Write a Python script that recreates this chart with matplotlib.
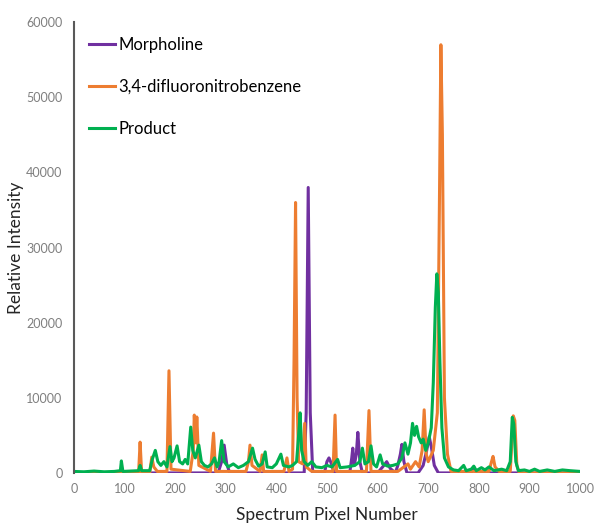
#! /usr/bin/env python
# Raman-like spectra of morpholine, 3,4-difluoronitrobenzene and product

import matplotlib
matplotlib.use('Agg')
import matplotlib.pyplot as plt

plt.rcParams['font.family'] = ['Lato', 'DejaVu Sans']

# spectrum pixel / relative intensity
morph_x = [0, 285, 292, 297, 302, 308, 455, 459, 463, 467, 472, 495, 500, 504,
           509, 514, 545, 549, 551, 554, 558, 561, 565, 570, 600, 610, 618, 625,
           635, 640, 645, 648, 652, 658, 680, 690, 697, 702, 706, 712, 720, 785,
           790, 795, 1000]
morph_y = [0, 0, 1500, 3700, 1200, 0, 0, 8000, 38000, 8000, 0, 0, 1500, 2000,
           1200, 0, 0, 2000, 3300, 1000, 2500, 5400, 1500, 0, 0, 800, 1500, 600,
           0, 1000, 2500, 3800, 1500, 0, 0, 1000, 3000, 4800, 3500, 1000, 0, 0,
           800, 0, 0]

dfnb_x = [0, 128, 131, 134, 150, 154, 158, 165, 184, 188, 192, 230, 236, 238,
          241, 243, 247, 270, 276, 280, 340, 345, 348, 352, 368, 372, 375, 415,
          421, 425, 432, 435, 438, 441, 444, 452, 456, 459, 470, 512, 516, 519,
          578, 583, 587, 640, 660, 665, 675, 682, 688, 692, 696, 700, 710, 718,
          722, 725, 728, 732, 738, 745, 820, 825, 828, 832, 840, 862, 866, 868,
          871, 875, 880, 1000]
dfnb_y = [0, 0, 4100, 0, 0, 2100, 800, 200, 200, 13600, 500, 200, 3000, 7700,
          4000, 7450, 1000, 200, 5300, 200, 200, 1500, 3700, 1000, 200, 2400,
          200, 200, 2000, 200, 500, 15000, 36000, 10000, 1500, 1200, 6600, 800,
          200, 200, 7700, 200, 200, 8300, 200, 200, 1200, 500, 1500, 800, 3000,
          8400, 2500, 1500, 3000, 8000, 35000, 57000, 45000, 10000, 2500, 200,
          200, 1500, 2200, 800, 200, 200, 5000, 7600, 7000, 1000, 0, 0]

prod_x = [0, 20, 40, 60, 80, 92, 94, 97, 128, 131, 134, 150, 155, 161, 166,
          172, 178, 184, 190, 194, 198, 204, 209, 215, 220, 225, 231, 235, 240,
          247, 252, 258, 265, 272, 278, 283, 287, 292, 297, 305, 315, 325, 335,
          345, 353, 358, 365, 372, 378, 382, 392, 400, 409, 414, 425, 432, 440,
          444, 447, 450, 455, 462, 470, 478, 490, 500, 510, 521, 526, 540, 555,
          565, 570, 575, 582, 587, 592, 598, 605, 610, 620, 630, 640, 648, 654,
          660, 665, 669, 673, 677, 681, 686, 690, 695, 700, 706, 710, 714, 717,
          720, 723, 727, 732, 740, 750, 760, 770, 775, 785, 790, 795, 805, 812,
          820, 830, 845, 855, 862, 866, 869, 873, 878, 890, 900, 910, 920, 935,
          950, 965, 980, 1000]
prod_y = [200, 150, 250, 150, 200, 300, 1600, 200, 300, 1000, 300, 300, 1800,
          3000, 1500, 1000, 1500, 800, 3500, 1500, 2000, 3600, 1500, 1200, 1800,
          1200, 6100, 3000, 2000, 3700, 1500, 1000, 800, 1200, 2000, 800, 1500,
          4300, 1500, 800, 1200, 700, 1000, 1500, 3300, 1800, 900, 1200, 2800,
          800, 700, 1200, 2500, 1000, 800, 1000, 1500, 5000, 8000, 3000, 1500,
          1000, 1500, 800, 700, 1000, 800, 1800, 700, 800, 1000, 1500, 3300,
          1200, 1500, 3600, 1200, 800, 2400, 1200, 900, 1000, 1200, 2000, 4000,
          2500, 4000, 6600, 5000, 6200, 4800, 4000, 4500, 3000, 4000, 6000,
          12000, 22000, 26500, 24000, 15000, 6000, 2000, 800, 400, 300, 1000,
          300, 500, 900, 300, 700, 400, 800, 300, 500, 300, 1500, 7400, 6500,
          1500, 300, 400, 200, 500, 200, 400, 200, 400, 300, 200]

fig = plt.figure(figsize=(5.95, 5.29), dpi=100)
ax = fig.add_axes([0.124, 0.106, 0.851, 0.852])

ax.plot(morph_x, morph_y, color='#7030A0', lw=2.2, label='Morpholine')
ax.plot(dfnb_x, dfnb_y, color='#ED7D31', lw=2.2, label='3,4-difluoronitrobenzene')
ax.plot(prod_x, prod_y, color='#00B050', lw=2.2, label='Product')

ax.set_xlim(0, 1000)
ax.set_ylim(0, 60000)
ax.set_xticks(range(0, 1001, 100))
ax.set_yticks(range(0, 60001, 10000))
ax.tick_params(axis='y', length=0, labelsize=9, labelcolor='#7f7f7f', pad=8)
ax.tick_params(axis='x', length=0, labelsize=9, labelcolor='#7f7f7f', pad=7)

for s in ('top', 'right', 'bottom'):
    ax.spines[s].set_visible(False)
ax.spines['left'].set_color('#595959')
ax.spines['left'].set_linewidth(1.5)

ax.set_xlabel('Spectrum Pixel Number', fontsize=12.5, color='#262626',
              labelpad=9)
ax.set_ylabel('Relative Intensity', fontsize=12.5, color='#262626', labelpad=2)

ax.legend(loc='upper left', frameon=False, fontsize=12, handlelength=1.6,
          handletextpad=0.2, labelspacing=1.55, bbox_to_anchor=(0.0, 1.0))

fig.savefig('out.png')
